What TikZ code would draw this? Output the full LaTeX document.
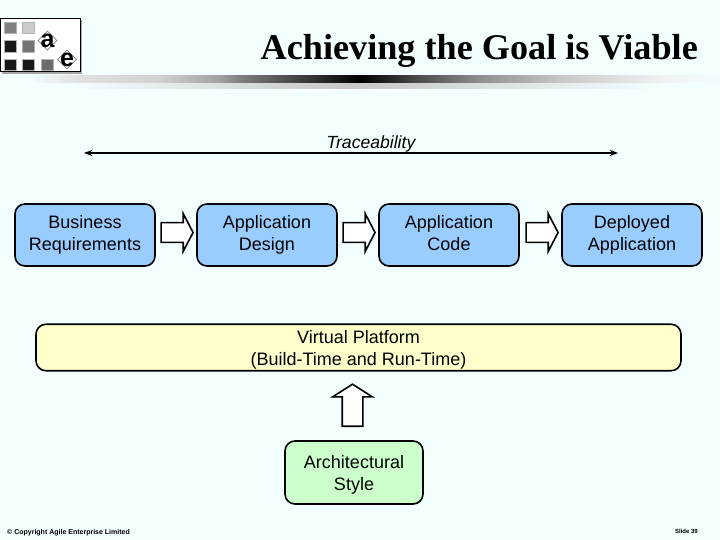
\documentclass[tikz,border=0pt]{standalone}
\usepackage{fontspec}
\setmainfont{Liberation Sans}
\newfontfamily\titlefont{Liberation Serif}
\usetikzlibrary{arrows.meta,shapes.arrows,shapes.geometric}
\definecolor{pagebg}{HTML}{F3FEFF}
\definecolor{stepblue}{HTML}{99CCFF}
\definecolor{platformyellow}{HTML}{FFFFCC}
\definecolor{stylegreen}{HTML}{CCFFCC}
\newcommand{\stagetext}[2]{\rule[-5pt]{0pt}{20pt}#1\\#2\rule[-5pt]{0pt}{17pt}}
\newcommand{\lowtext}[2]{\rule[-5pt]{0pt}{24.5pt}#1\\#2\rule[-5pt]{0pt}{17pt}}
\pgfdeclarehorizontalshading{rulefade}{100bp}{
  rgb(0bp)=(0.95,0.99,1); rgb(25bp)=(0.95,0.99,1); rgb(28.6bp)=(0.88,0.88,0.88);
  rgb(34.4bp)=(0.82,0.82,0.82); rgb(38.8bp)=(0.63,0.63,0.63); rgb(40.2bp)=(0.5,0.5,0.5);
  rgb(44.6bp)=(0.25,0.25,0.25); rgb(48.9bp)=(0,0,0); rgb(53.3bp)=(0.31,0.31,0.31);
  rgb(57.6bp)=(0.56,0.56,0.56); rgb(63.4bp)=(0.78,0.78,0.78); rgb(70.7bp)=(0.94,0.95,0.95);
  rgb(75bp)=(0.95,0.99,1); rgb(100bp)=(0.95,0.99,1)}
\tikzset{
  stagebox/.style={draw=black, line width=1.6pt, rounded corners=10pt, minimum height=62pt,
    minimum width=140pt, inner sep=0pt, align=center, font=\fontsize{18}{22}\selectfont},
  blockarrow/.style={single arrow, draw=black, fill=white, line width=1.6pt, inner xsep=0pt, inner ysep=9pt,
    single arrow head extend=9pt, single arrow tip angle=125, minimum height=32pt},
  logosquare/.style={draw=gray!60, line width=0.5pt},
  logoletter/.style={diamond, draw=gray, line width=0.8pt, inner sep=0pt, minimum size=19pt},
  letterlabel/.style={inner sep=0pt, text=black, font=\bfseries\fontsize{25}{25}\selectfont},
  footnote/.style={inner sep=0pt, font=\bfseries\fontsize{6}{6}\selectfont}
}
\begin{document}
\begin{tikzpicture}[x=1pt, y=-1pt, >=Stealth]
  % Background
  \fill[pagebg] (0,0) rectangle (720,540);
  \useasboundingbox (0,0) rectangle (720,540);

  % Logo
  \fill[gray!70] (2,20) rectangle (82,74);
  \draw[black, line width=1.1pt, fill=white] (0.6,18.5) rectangle (80.5,71.5);
  \filldraw[logosquare, fill=black!50] (4,22) rectangle (16,33);
  \filldraw[logosquare, fill=black!20] (22,22) rectangle (34.5,33);
  \filldraw[logosquare, fill=black!90] (4,40) rectangle (16,52);
  \filldraw[logosquare, fill=black!55] (22,40) rectangle (34.5,52);
  \filldraw[logosquare, fill=black!90] (4,59) rectangle (16,70);
  \filldraw[logosquare, fill=black!90] (22,59) rectangle (34.5,70);
  \filldraw[logosquare, fill=black!58] (41,59) rectangle (53,70);
  \node[logoletter, label={[letterlabel]center:a}] (logoa) at (47.5,40.5) {};
  \node[logoletter, label={[letterlabel]center:e}] (logoe) at (67,59.5) {};

  % Title and rule under it
  \node[font=\titlefont\bfseries\fontsize{36.2}{38}\selectfont, anchor=east, inner sep=0pt] (title) at (698,51) {Achieving the Goal is Viable};
  \shade[shading=rulefade] (30,76) rectangle (720,83);
  \shade[left color=pagebg, right color=black!22] (70,84) rectangle (350,89);
  \shade[left color=black!22, right color=pagebg] (350,84) rectangle (660,89);

  % Traceability
  \node[font=\itshape\fontsize{17.6}{18}\selectfont, inner sep=0pt] (trace) at (371,143.5) {Traceability};
  \coordinate (traceleft) at (84,153);
  \coordinate (traceright) at (618,153);
  \draw[<->, line width=1.2pt] (traceleft) -- (traceright);

  % Stages
  \node[stagebox, fill=stepblue] (business) at (85,235) {\stagetext{Business}{Requirements}};
  \node[stagebox, fill=stepblue] (design) at (267,235) {\stagetext{Application}{Design}};
  \node[stagebox, fill=stepblue] (code) at (449,235) {\stagetext{Application}{Code}};
  \node[stagebox, fill=stepblue] (deployed) at (632,235) {\stagetext{Deployed}{Application}};

  % Hollow arrows between the stages
  \node[blockarrow] (arrowa) at (174.5,232.5) {};
  \node[blockarrow] (arrowb) at (356.5,232.5) {};
  \node[blockarrow] (arrowc) at (539.5,232.5) {};

  % Platform
  \node[stagebox, fill=platformyellow, minimum width=645pt, minimum height=45pt] (platform) at (358.5,347.5) {\lowtext{Virtual Platform}{(Build-Time and Run-Time)}};

  % Style
  \node[blockarrow, rotate=90, minimum height=42pt, inner ysep=9.5pt, single arrow head extend=9.5pt, single arrow tip angle=115] (arrowup) at (352.5,408.5) {};
  \node[stagebox, fill=stylegreen, minimum width=138pt, minimum height=63pt] (style) at (354,472.5) {\lowtext{Architectural}{Style}};

  % Footer
  \node[footnote, font=\bfseries\fontsize{7}{7}\selectfont, anchor=west] (copyright) at (7,532.5) {© Copyright Agile Enterprise Limited};
  \node[footnote, anchor=east] (slide) at (698,531) {Slide 39};
\end{tikzpicture}
\end{document}
